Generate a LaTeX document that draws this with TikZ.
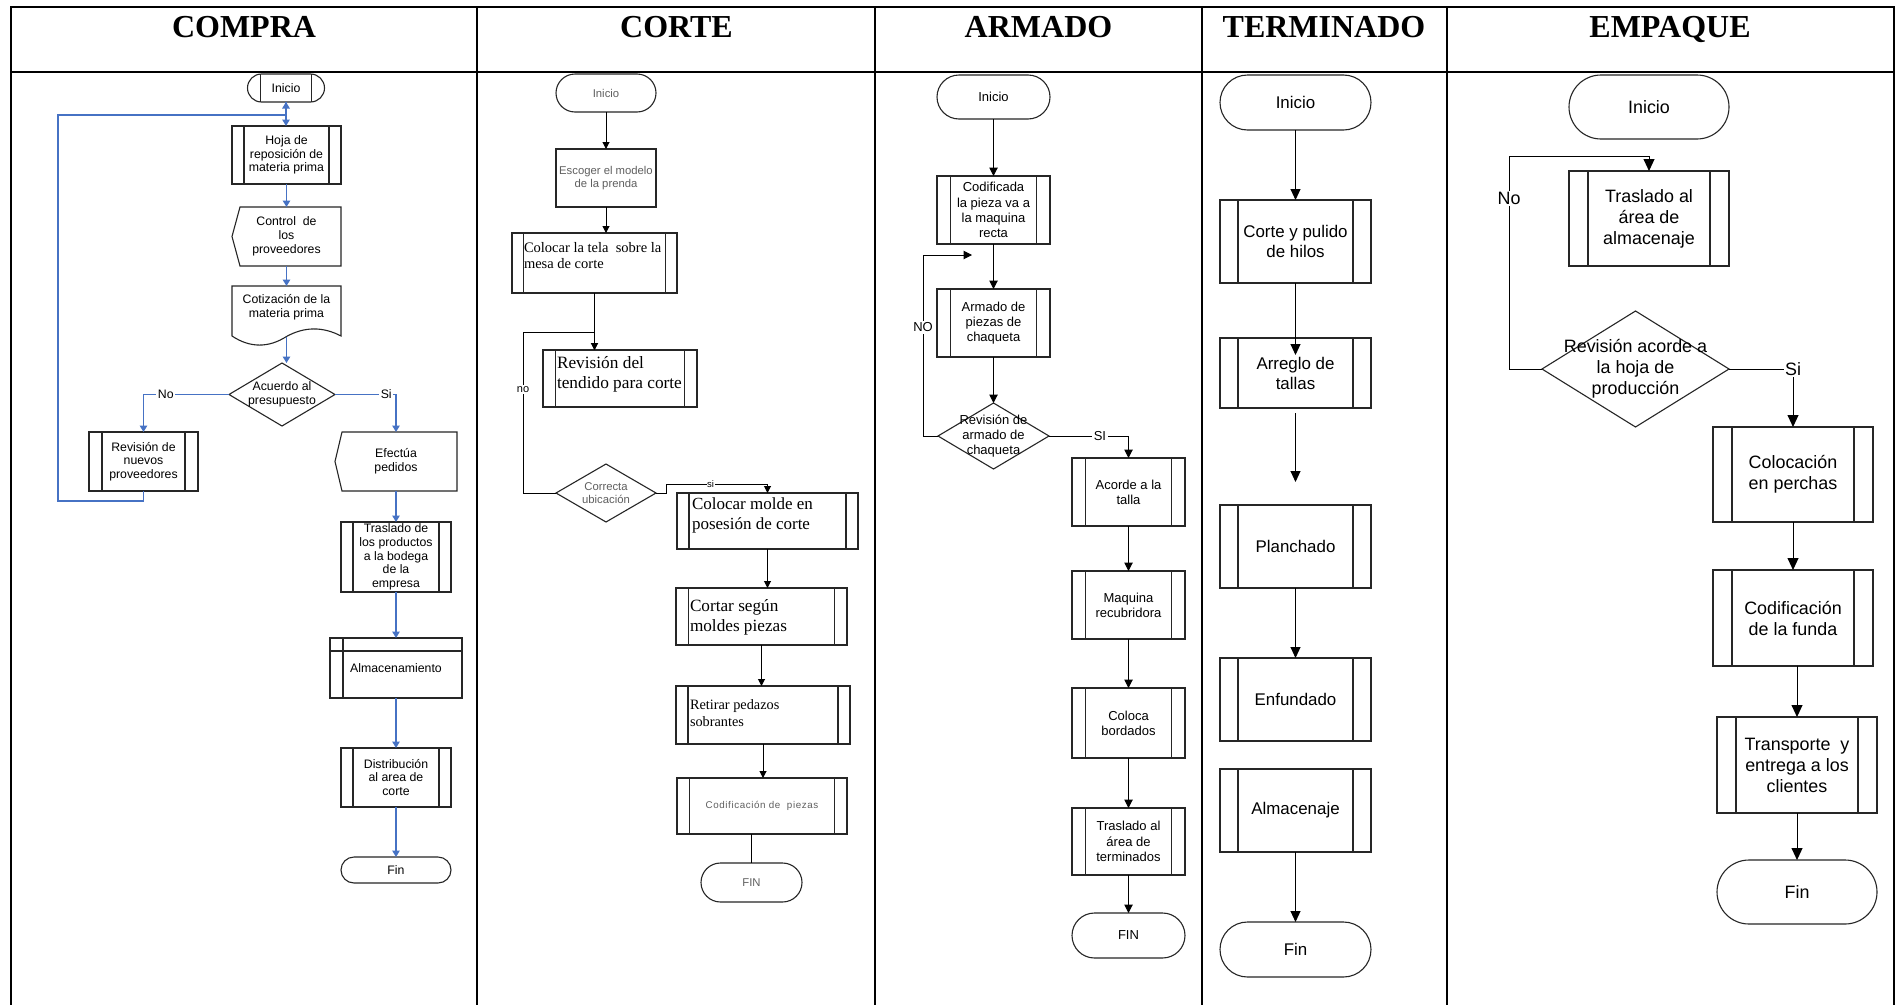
\documentclass[tikz,border=0pt]{standalone}
\usepackage{fontspec}
\setmainfont{Liberation Sans}
\newfontfamily\tnr{Liberation Serif}
\usetikzlibrary{shapes.geometric,arrows.meta,calc}
\newcommand\fsz[2]{\fontsize{#1}{#2}\selectfont}
\definecolor{lnblue}{RGB}{70,114,196}
\definecolor{txtgray}{RGB}{95,95,95}

\begin{document}
\begin{tikzpicture}[x=1pt,y=-1pt,
  base/.style={inner sep=0pt, outer sep=0pt, line width=1.1pt, draw=black!85, align=center},
  plain/.style={base, draw=none},
  proc/.style={base, rectangle, path picture={
    \draw[line width=1.1pt, black!85]
      ([xshift=#1]path picture bounding box.north west) -- ([xshift=#1]path picture bounding box.south west)
      ([xshift=-#1]path picture bounding box.north east) -- ([xshift=-#1]path picture bounding box.south east);}},
  proc/.default=12pt,
  term/.style={base, rectangle, rounded corners=#1},
  dec/.style={base, diamond},
  sz/.style 2 args={minimum width=#1pt, minimum height=#2pt},
  grid/.style={line width=2.6pt, line cap=rect},
  outl/.style={line width=1.1pt, draw=black!85},
  head/.style={anchor=base, font=\tnr\bfseries\fsz{32}{36}},
  lbl/.style={fill=white, inner sep=1.5pt},
  ln/.style={line width=1pt, draw=black},
]
\useasboundingbox (0,0) rectangle (1903,1004);
\fill[white] (0,0) rectangle (1903,1004);

% table frame
\draw[grid] (11,7) -- (1894,7);
\draw[grid] (11,72) -- (1894,72);
\foreach \x in {11,477,875,1202,1447,1894} \draw[grid] (\x,7) -- (\x,1004);

% column titles
\node[head] (h1) at (244,37) {COMPRA};
\node[head] (h2) at (676.5,37) {CORTE};
\node[head] (h3) at (1038.5,37) {ARMADO};
\node[head] (h4) at (1324,37) {TERMINADO};
\node[head] (h5) at (1670,37) {EMPAQUE};

% ---------------- COMPRA ----------------
\begin{scope}[font=\fsz{12.3}{13.7},
  conn/.style={draw=lnblue, line width=1.2pt, -{Triangle[length=6.5pt,width=7.5pt]}}]
\node[proc=13pt, rounded corners=14pt, sz={77}{28}] (c0) at (286,88) {Inicio};
\node[proc, sz={109}{58}] (c1) at (286.5,155) {Hoja de\\reposición de\\materia prima};
\node[plain, sz={109}{59}] (c2) at (286.5,236.5) {Control\ \ de\\los\\proveedores};
\draw[outl] ($(c2.north west)+(8,0)$) -- (c2.north east) -- (c2.south east)
  -- ($(c2.south west)+(8,0)$) -- (c2.west) -- cycle;
\node[plain, sz={109}{42}] (c3) at (286.5,307) {Cotización de la\\materia prima};
\draw[outl] ($(c3.south west)+(0,8)$) -- (c3.north west) -- (c3.north east) -- ($(c3.south east)+(0,8)$)
  .. controls ($(c3.south)+(36.5,-1.5)$) and ($(c3.south)+(18,-1.5)$) .. ($(c3.south)+(0,8.5)$)
  .. controls ($(c3.south)+(-18,20)$) and ($(c3.south)+(-36.5,20)$) .. ($(c3.south west)+(0,8)$) -- cycle;
\node[dec, sz={106}{63}] (c4) at (282,394.5) {};
\node[plain] (c4t) at (c4) {Acuerdo al\\presupuesto};
\node[proc=13pt, sz={109}{59}] (c5) at (143.5,461.5) {Revisión de\\nuevos\\proveedores};
\node[plain, sz={122}{59}] (c6) at (396,461.5) {Efectúa\\pedidos};
\draw[outl] ($(c6.north west)+(7,0)$) -- (c6.north east) -- (c6.south east)
  -- ($(c6.south west)+(7,0)$) -- (c6.west) -- cycle;
\node[proc, sz={110}{70}] (c7) at (396,557) {Traslado de\\los productos\\a la bodega\\de la\\empresa};
\node[base, rectangle, sz={132}{60}, path picture={
    \draw[line width=1.1pt, black!85]
      ([yshift=-13pt]path picture bounding box.north west) -- ([yshift=-13pt]path picture bounding box.north east)
      ([xshift=13pt]path picture bounding box.north west) -- ([xshift=13pt]path picture bounding box.south west);}]
  (c8) at (396,668) {Almacenamiento};
\node[proc, sz={110}{59}] (c9) at (396,777.5) {Distribución\\al area de\\corte};
\node[term=13pt, sz={110}{26}] (c10) at (396,870) {Fin};

\draw[conn] (c0.south) -- (c0.south |- c1.north);
\coordinate (cl) at (58,115);
\draw[conn] (c5.south) -- ++(0,10) -| (cl) -- (cl -| c0.south) -- (c0.south);
\draw[conn] (c1.south) -- (c2.north);
\draw[conn] (c2.south) -- (c3.north);
\draw[conn] ($(c3.south)+(0,8.5)$) -- (c3.south |- c4.north);
\draw[conn] (c4.west) -| node[lbl, pos=0.37]{No} (c5.north);
\draw[conn] (c4.east) -| node[lbl, pos=0.42]{Si} (c6.north);
\draw[conn] (c6.south) -- (c7.north);
\draw[conn] (c7.south) -- (c8.north);
\draw[conn] (c8.south) -- (c9.north);
\draw[conn] (c9.south) -- (c10.north);
\end{scope}

% ---------------- CORTE ----------------
\begin{scope}[font=\fsz{11.3}{13},
  conn/.style={ln, -{Triangle[length=7pt,width=7pt]}}]
\node[term=19pt, sz={100}{38}, text=txtgray] (r0) at (606,93) {Inicio};
\node[base, rectangle, sz={100}{58}, text=txtgray] (r1) at (606,178) {Escoger el modelo\\de la prenda};
\node[proc=11.5pt, sz={165}{60}] (r2) at (594.5,263) {};
\node[plain, anchor=north west, align=left, font=\tnr\fsz{14.5}{16}] (r2t)
  at ($(r2.north west)+(12,9)$) {Colocar la tela\ \ sobre la\\mesa de corte};
\node[proc=12.5pt, sz={154}{57}] (r3) at (620,378.5) {};
\node[plain, anchor=north west, align=left, font=\tnr\fsz{17.3}{20}] (r3t)
  at ($(r3.north west)+(14,6)$) {Revisión del\\tendido para corte};
\node[dec, sz={100}{58}] (r4) at (606,493) {};
\node[plain, text=txtgray] (r4t) at (r4) {Correcta\\ubicación};
\node[proc=12pt, sz={181}{56}] (r5) at (767.5,521) {};
\node[plain, anchor=north west, align=left, font=\tnr\fsz{17}{20}] (r5t)
  at ($(r5.north west)+(15,5)$) {Colocar molde en\\posesión de corte};
\node[proc=12.5pt, sz={171}{57}] (r6) at (761.5,616.5) {};
\node[plain, anchor=north west, align=left, font=\tnr\fsz{17.2}{20}] (r6t)
  at ($(r6.north west)+(14,12)$) {Cortar según\\moldes piezas};
\node[proc=12pt, sz={174}{58}] (r7) at (763,715) {};
\node[plain, anchor=north west, align=left, font=\tnr\fsz{14.3}{17}] (r7t)
  at ($(r7.north west)+(14,14)$) {Retirar pedazos\\sobrantes};
\node[proc=12.5pt, sz={170}{56}, text=txtgray, font={\fsz{9.8}{12}\addfontfeature{LetterSpace=6}}] (r8)
  at (762,806) {Codificación de\ \ piezas};
\node[term=19.5pt, sz={101}{39}, text=txtgray] (r9) at (751.5,882.5) {FIN};

\draw[conn] (r0.south) -- (r1.north);
\draw[conn] (r1.south) -- (r1.south |- r2.north);
\draw[conn] (r2.south) -- (r2.south |- r3.north);
\coordinate (rl) at (523,332);
\draw[conn] (r4.west) -| node[lbl, pos=0.82, font=\fsz{11}{13}]{no} (rl) -| (r2.south |- r3.north);
\draw[conn] (r4.east) -- ++(10,0) |- node[lbl, pos=0.72, inner sep=0.5pt, font=\fsz{9.5}{10}]{si}
  ($(r5.north)+(0,-9)$) -- (r5.north);
\draw[conn] (r5.south) -- (r5.south |- r6.north);
\draw[conn] (r6.south) -- (r6.south |- r7.north);
\draw[conn] (r7.south) -- (r7.south |- r8.north);
\draw[ln] (r9.north |- r8.south) -- (r9.north);
\end{scope}

% ---------------- ARMADO ----------------
\begin{scope}[font=\fsz{13}{15.2},
  conn/.style={ln, -{Triangle[length=8.5pt,width=8.5pt]}}]
\node[term=22pt, sz={113}{44}] (a0) at (993.5,97) {Inicio};
\node[proc=13.5pt, sz={113}{68}] (a1) at (993.5,210) {Codificada\\la pieza va a\\la maquina\\recta};
\node[proc=13.5pt, sz={113}{68}] (a2) at (993.5,323) {Armado de\\piezas de\\chaqueta};
\node[dec, sz={111}{66}] (a3) at (993.5,436) {};
\node[plain] (a3t) at (a3) {Revisión de\\armado de\\chaqueta};
\node[proc=13.5pt, sz={113}{68}] (a4) at (1128.5,492) {Acorde a la\\talla};
\node[proc=13.5pt, sz={113}{68}] (a5) at (1128.5,605) {Maquina\\recubridora};
\node[proc=13.5pt, sz={113}{70}] (a6) at (1128.5,723) {Coloca\\bordados};
\node[proc=13.5pt, sz={113}{67}] (a7) at (1128.5,841.5) {Traslado al\\área de\\terminados};
\node[term=22.5pt, sz={113}{45}] (a8) at (1128.5,935.5) {FIN};

\draw[conn] (a0.south) -- (a1.north);
\draw[conn] (a1.south) -- (a2.north);
\draw[conn] (a2.south) -- (a3.north);
\coordinate (al) at (923,255);
\coordinate (ae) at (972,255);
\draw[conn] (a3.west) -| node[lbl, pos=0.8]{NO} (al) -- (ae);
\draw[conn] (a3.east) -| node[lbl, pos=0.32]{SI} (a4.north);
\draw[conn] (a4.south) -- (a5.north);
\draw[conn] (a5.south) -- (a6.north);
\draw[conn] (a6.south) -- (a7.north);
\draw[conn] (a7.south) -- (a8.north);
\end{scope}

% ---------------- TERMINADO ----------------
\begin{scope}[font=\fsz{16.9}{20},
  conn/.style={ln, -{Triangle[length=11pt,width=10pt]}}]
\node[term=27.5pt, sz={151}{55}] (t0) at (1295.5,102.5) {Inicio};
\node[proc=18pt, sz={151}{83}] (t1) at (1295.5,241.5) {Corte y pulido\\de hilos};
\node[proc=18pt, sz={151}{70}] (t2) at (1295.5,373) {Arreglo de\\tallas};
\node[proc=18pt, sz={151}{83}] (t3) at (1295.5,546.5) {Planchado};
\node[proc=18pt, sz={151}{83}] (t4) at (1295.5,699.5) {Enfundado};
\node[proc=18pt, sz={151}{83}] (t5) at (1295.5,810.5) {Almacenaje};
\node[term=27.5pt, sz={151}{55}] (t6) at (1295.5,949.5) {Fin};

\draw[conn] (t0.south) -- (t1.north);
\draw[conn] (t1.south) -- ($(t2.north)+(0,17)$);
\draw[conn] ($(t2.south)+(0,5)$) -- ($(t3.north)+(0,-23)$);
\draw[conn] (t3.south) -- (t4.north);
\draw[conn] (t5.south) -- (t6.north);
\end{scope}

% ---------------- EMPAQUE ----------------
\begin{scope}[font=\fsz{17.9}{21},
  conn/.style={ln, -{Triangle[length=12pt,width=11pt]}}]
\node[term=32pt, sz={160}{64}] (e0) at (1649,107) {Inicio};
\node[proc=19pt, sz={160}{95}] (e1) at (1649,218.5) {Traslado al\\área de\\almacenaje};
\node[dec, sz={187}{116}] (e2) at (1635.5,369) {};
\node[plain] (e2t) at (e2) {Revisión acorde a\\la hoja de\\producción};
\node[proc=19pt, sz={160}{95}] (e3) at (1793,474.5) {Colocación\\en perchas};
\node[proc=19pt, sz={160}{96}] (e4) at (1793,618) {Codificación\\de la funda};
\node[proc=19pt, sz={160}{96}] (e5) at (1797,765) {Transporte\ \ y\\entrega a los\\clientes};
\node[term=32pt, sz={160}{64}] (e6) at (1797,892) {Fin};

\coordinate (el) at (1509,156);
\draw[conn] (e2.west) -| node[lbl, pos=0.9]{No} (el) -| (e1.north);
\draw[conn] (e2.east) -| node[lbl, pos=0.5]{Si} (e3.north);
\draw[conn] (e3.south) -- (e4.north);
\draw[conn] (e5.north |- e4.south) -- (e5.north);
\draw[conn] (e5.south) -- (e6.north);
\end{scope}
\end{tikzpicture}
\end{document}
